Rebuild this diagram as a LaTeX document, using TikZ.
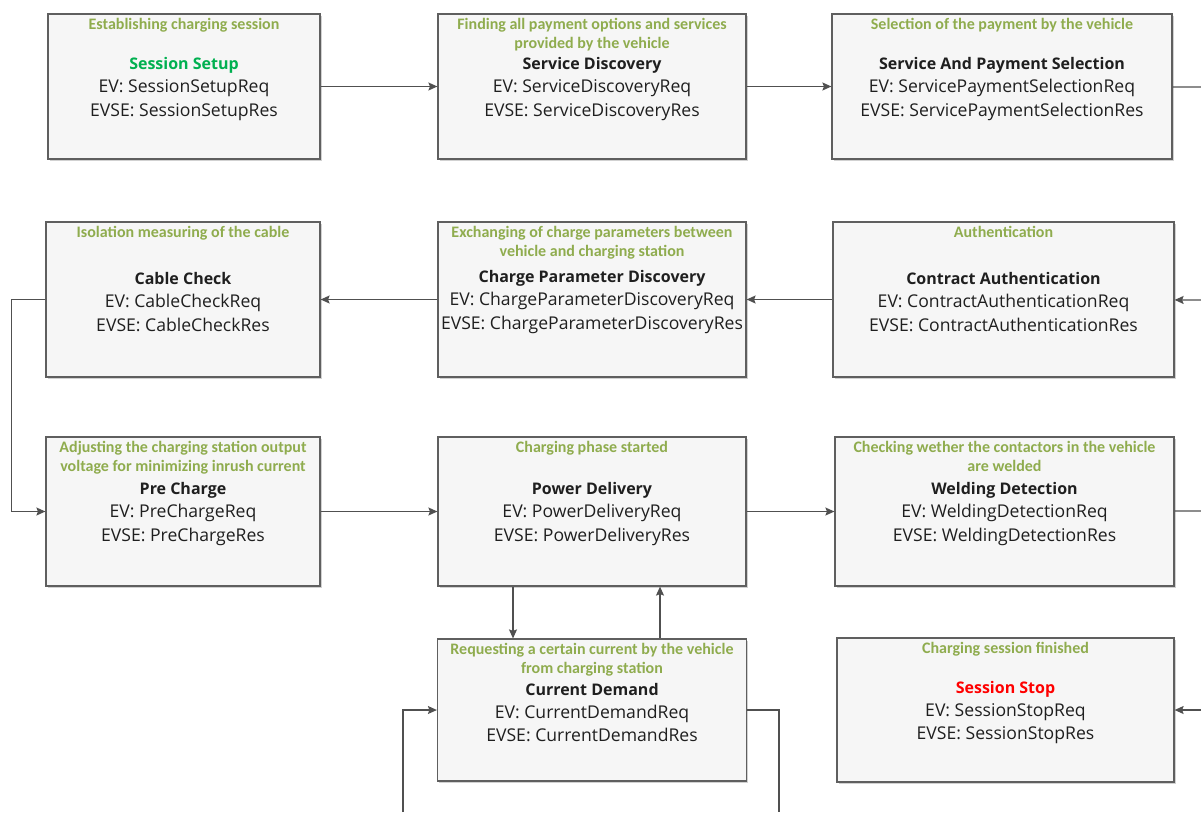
\documentclass[tikz,border=0pt]{standalone}
\usepackage{fontspec}
\setmainfont{Open Sans}
\newfontfamily\capfont{Carlito}
\usetikzlibrary{arrows.meta,shadows}

\definecolor{boxfill}{RGB}{246,246,246}
\definecolor{boxline}{RGB}{95,95,95}
\definecolor{linkcol}{RGB}{80,80,80}
\definecolor{capgreen}{RGB}{143,172,78}
\definecolor{startgreen}{RGB}{0,176,80}
\definecolor{stopred}{RGB}{255,0,0}

\newcommand{\steptitle}[1]{\rule{0pt}{17pt}{\fontsize{16}{23}\selectfont\bfseries #1}}

\tikzset{
  stepbox/.style={draw=boxline, line width=1.2pt, fill=boxfill, rectangle,
    align=center, inner sep=0pt,
    font=\fontsize{17.6}{23.2}\selectfont, text=black!88,
    drop shadow={shadow xshift=1.8pt, shadow yshift=-1.8pt, fill=black, opacity=0.18}},
  caption/.style={font=\capfont\bfseries\fontsize{16}{19}\selectfont,
    text=capgreen, align=center, inner sep=1.5pt, yshift=-3pt},
  link/.style={draw=linkcol, line width=1.3pt},
  >={Stealth[length=9pt,width=8pt,inset=1.5pt]},
}

\begin{document}
\begin{tikzpicture}[x=1pt,y=-1pt]
    \useasboundingbox (0,0) rectangle (1201,812);

    % first row
    \node[stepbox, minimum width=272, minimum height=145,
          label={[caption, anchor=north]north:Establishing charging session}]
          (ss) at (184,86.5)
          {\textcolor{startgreen}{\steptitle{Session Setup}}\\EV: SessionSetupReq\\EVSE: SessionSetupRes};
    \node[stepbox, minimum width=308, minimum height=145,
          label={[caption, anchor=north]north:{Finding all payment options and services\\provided by the vehicle}}]
          (sd) at (592,86.5)
          {\steptitle{Service Discovery}\\EV: ServiceDiscoveryReq\\EVSE: ServiceDiscoveryRes};
    \node[stepbox, minimum width=340, minimum height=145,
          label={[caption, anchor=north]north:Selection of the payment by the vehicle}]
          (sps) at (1002,86.5)
          {\steptitle{Service And Payment Selection}\\EV: ServicePaymentSelectionReq\\EVSE: ServicePaymentSelectionRes};

    % second row
    \node[stepbox, minimum width=274, minimum height=155,
          label={[caption, anchor=north]north:Isolation measuring of the cable}]
          (cc) at (183,299.5)
          {\steptitle{Cable Check}\\EV: CableCheckReq\\EVSE: CableCheckRes};
    \node[stepbox, minimum width=308, minimum height=155,
          label={[caption, anchor=north]north:{Exchanging of charge parameters between\\vehicle and charging station}}]
          (cpd) at (592,299.5)
          {\steptitle{Charge Parameter Discovery}\\EV: ChargeParameterDiscoveryReq\\EVSE: ChargeParameterDiscoveryRes};
    \node[stepbox, minimum width=341, minimum height=155,
          label={[caption, anchor=north]north:Authentication}]
          (ca) at (1003.5,299.5)
          {\steptitle{Contract Authentication}\\EV: ContractAuthenticationReq\\EVSE: ContractAuthenticationRes};

    % third row
    \node[stepbox, minimum width=274, minimum height=149,
          label={[caption, anchor=north]north:{Adjusting the charging station output\\voltage for minimizing inrush current}}]
          (pc) at (183,511.5)
          {\steptitle{Pre Charge}\\EV: PreChargeReq\\EVSE: PreChargeRes};
    \node[stepbox, minimum width=308, minimum height=149,
          label={[caption, anchor=north]north:Charging phase started}]
          (pd) at (592,511.5)
          {\steptitle{Power Delivery}\\EV: PowerDeliveryReq\\EVSE: PowerDeliveryRes};
    \node[stepbox, minimum width=339, minimum height=149,
          label={[caption, anchor=north]north:{Checking wether the contactors in the vehicle\\are welded}}]
          (wd) at (1004.5,511.5)
          {\steptitle{Welding Detection}\\EV: WeldingDetectionReq\\EVSE: WeldingDetectionRes};

    % fourth row
    \node[stepbox, minimum width=309, minimum height=142,
          label={[caption, anchor=north]north:{Requesting a certain current by the vehicle\\from charging station}}]
          (cd) at (592,710)
          {\steptitle{Current Demand}\\EV: CurrentDemandReq\\EVSE: CurrentDemandRes};
    \node[stepbox, minimum width=337, minimum height=144,
          label={[caption, anchor=north]north:Charging session finished}]
          (sst) at (1005.5,710)
          {\textcolor{stopred}{\steptitle{Session Stop}}\\EV: SessionStopReq\\EVSE: SessionStopRes};

    % free ends at the border of the picture
    \coordinate (r1) at (1201,87);
    \coordinate (r2) at (1201,300);
    \coordinate (r3) at (1201,511);
    \coordinate (r4) at (1201,710);
    \coordinate (bl) at (403,812);
    \coordinate (br) at (779,812);

    % connectors
    \draw[link,->] (ss) -- (sd);
    \draw[link,->] (sd) -- (sps);
    \draw[link] (sps) -- (r1);
    \draw[link,->] (r2) -- (ca);
    \draw[link,->] (ca) -- (cpd);
    \draw[link,->] (cpd) -- (cc);
    \draw[link,->] (cc.west) -- ++(-34,0) |- (pc.west);
    \draw[link,->] (pc) -- (pd);
    \draw[link,->] (pd) -- (wd);
    \draw[link] (wd) -- (r3);
    \draw[link,->] (r4) -- (sst);
    \draw[link,->] (pd.south -| 513,0) -- (cd.north -| 513,0);
    \draw[link,->] (cd.north -| 660,0) -- (pd.south -| 660,0);
    \draw[link,->] (bl) |- (cd.west);
    \draw[link] (cd.east) -| (br);
\end{tikzpicture}
\end{document}
